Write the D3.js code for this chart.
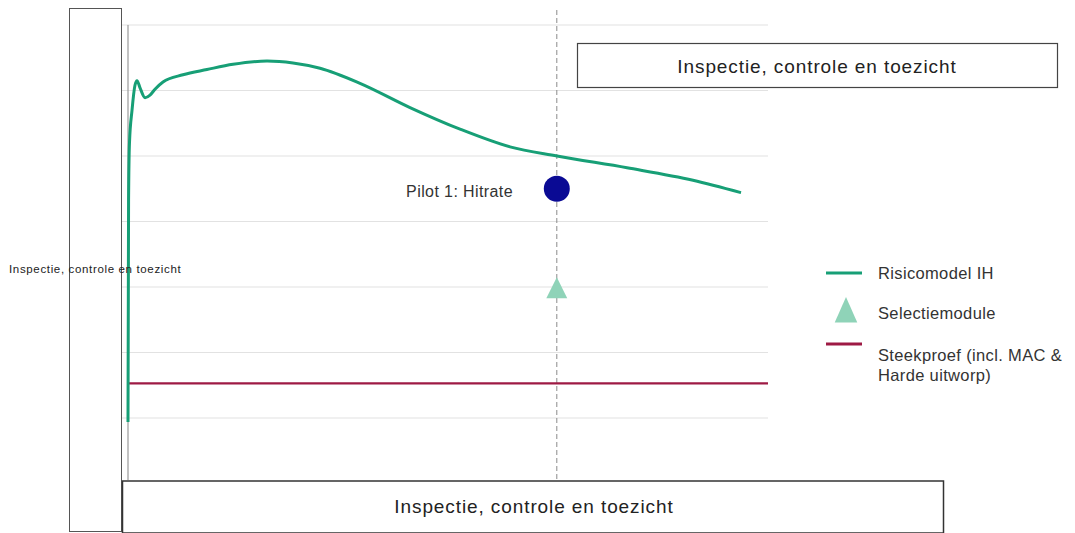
<!DOCTYPE html>
<html>
<head>
<meta charset="utf-8">
<script src="https://cdn.jsdelivr.net/npm/d3@7"></script>
<style>
  body { margin: 0; background: #fff; }
  svg { display: block; font-family: "Liberation Sans", Arial, sans-serif; }
</style>
</head>
<body>
<svg id="chart"></svg>
<script>
'use strict';

var width = 1075,
    height = 533;

// risk model curve (x = % of checks, y = hit rate level)
var curveX = [0, 0.05, 0.09, 0.23, 0.63, 1.09, 1.41, 1.88, 2.66, 3.44, 4.22, 5.47, 8.59, 12.34,
  16.41, 21.72, 25.78, 30.0, 36.25, 44.06, 51.88, 59.69, 67.03, 77.97, 88.28, 95.78];
var curveY = [0.94, 2.8, 4.33, 5.2, 5.7, 6.08, 6.15, 6.04, 5.89, 5.93, 6.02, 6.13, 6.24, 6.32,
  6.4, 6.45, 6.42, 6.34, 6.11, 5.74, 5.41, 5.14, 5.0, 4.82, 4.63, 4.44];

var gridValues = [1, 2, 3, 4, 5, 6, 7];
var sampleLevel = 1.53;
var pilotX = 67;
var pilotY = 4.5;
var selectionY = 2.95;

var boxLabel = 'Inspectie, controle en toezicht';
var pilotLabel = 'Pilot 1: Hitrate';
var legendItems = [
  { label: ['Risicomodel IH'], kind: 'line', color: '#179f76' },
  { label: ['Selectiemodule'], kind: 'triangle', color: '#8fd3b8' },
  { label: ['Steekproef (incl. MAC &', 'Harde uitworp)'], kind: 'line', color: '#9e1a44' }
];

var x = d3.scaleLinear().domain([0, 100]).range([128, 768]);
var y = d3.scaleLinear().domain([0, 7]).range([483.5, 25]);

var svg = d3.select('#chart')
  .attr('width', width)
  .attr('height', height);

// gridlines
svg.append('g')
  .selectAll('line')
  .data(gridValues)
  .enter()
  .append('line')
  .attr('x1', x(0) - 6)
  .attr('x2', x(100))
  .attr('y1', d => y(d))
  .attr('y2', d => y(d))
  .style('stroke', '#e2e2e2')
  .style('stroke-width', 1.2);

// left box
svg.append('rect')
  .attr('x', 69.5).attr('y', 8.5)
  .attr('width', 52).attr('height', 523)
  .style('fill', 'none')
  .style('stroke', '#555')
  .style('stroke-width', 1);

// y axis line
svg.append('line')
  .attr('x1', x(0)).attr('x2', x(0))
  .attr('y1', y(7)).attr('y2', 480)
  .style('stroke', '#999')
  .style('stroke-width', 1.2);

// vertical dashed marker
svg.append('line')
  .attr('x1', x(pilotX)).attr('x2', x(pilotX))
  .attr('y1', 10).attr('y2', 481)
  .style('stroke', '#8a8a8a')
  .style('stroke-width', 1)
  .style('stroke-dasharray', '5,3');

// sample line
svg.append('line')
  .attr('x1', x(0)).attr('x2', x(100))
  .attr('y1', y(sampleLevel)).attr('y2', y(sampleLevel))
  .style('stroke', '#9e1a44')
  .style('stroke-width', 2.2);

// risk model curve
var line = d3.line()
  .x((d, i) => x(curveX[i]))
  .y(d => y(d))
  .curve(d3.curveMonotoneX);

svg.append('path')
  .attr('d', line(curveY))
  .style('fill', 'none')
  .style('stroke', '#179f76')
  .style('stroke-width', 3);

// selection module triangle
var tri = d3.symbol().type(d3.symbolTriangle).size(190);
svg.append('path')
  .attr('d', tri())
  .attr('transform', 'translate(' + x(pilotX) + ',' + (y(selectionY) + 1) + ') scale(1,1.15)')
  .style('fill', '#8fd3b8');

// pilot dot
svg.append('circle')
  .attr('cx', x(pilotX))
  .attr('cy', y(pilotY))
  .attr('r', 13)
  .style('fill', '#0a0a94');

svg.append('text')
  .attr('x', 513)
  .attr('y', y(pilotY) + 8)
  .attr('text-anchor', 'end')
  .style('font-size', '16px')
  .style('letter-spacing', '0.4px')
  .style('fill', '#333')
  .text(pilotLabel);

// top right box
svg.append('rect')
  .attr('x', 577.5).attr('y', 43.5)
  .attr('width', 480).attr('height', 44)
  .style('fill', '#fff')
  .style('stroke', '#444')
  .style('stroke-width', 1.2);
svg.append('text')
  .attr('x', 817).attr('y', 73)
  .attr('text-anchor', 'middle')
  .style('font-size', '19px')
  .style('letter-spacing', '0.9px')
  .style('fill', '#222')
  .text(boxLabel);

// bottom box
svg.append('rect')
  .attr('x', 122.5).attr('y', 481)
  .attr('width', 821).attr('height', 52)
  .style('fill', '#fff')
  .style('stroke', '#333')
  .style('stroke-width', 1.5);
svg.append('text')
  .attr('x', 534).attr('y', 513)
  .attr('text-anchor', 'middle')
  .style('font-size', '19px')
  .style('letter-spacing', '0.9px')
  .style('fill', '#222')
  .text(boxLabel);

// small left label
svg.append('text')
  .attr('x', 9).attr('y', 273)
  .style('font-size', '11.5px')
  .style('letter-spacing', '0.65px')
  .style('fill', '#222')
  .text(boxLabel);

// legend
var legend = svg.append('g').attr('transform', 'translate(826, 0)');
var legendRows = [273, 313, 344];
legendItems.forEach((item, i) => {
  var cy = legendRows[i];
  if (item.kind === 'line') {
    legend.append('line')
      .attr('x1', 0).attr('x2', 36)
      .attr('y1', cy).attr('y2', cy)
      .style('stroke', item.color)
      .style('stroke-width', 3);
  } else {
    legend.append('path')
      .attr('d', d3.symbol().type(d3.symbolTriangle).size(220)())
      .attr('transform', 'translate(20,' + (cy + 1) + ') scale(1,1.3)')
      .style('fill', item.color);
  }
  item.label.forEach((t, j) => {
    legend.append('text')
      .attr('x', 52)
      .attr('y', cy + 6 + (i === 2 ? 11 : 0) + j * 20)
      .style('font-size', '16.5px')
      .style('letter-spacing', '0.35px')
      .style('fill', '#333')
      .text(t);
  });
});
</script>
</body>
</html>
